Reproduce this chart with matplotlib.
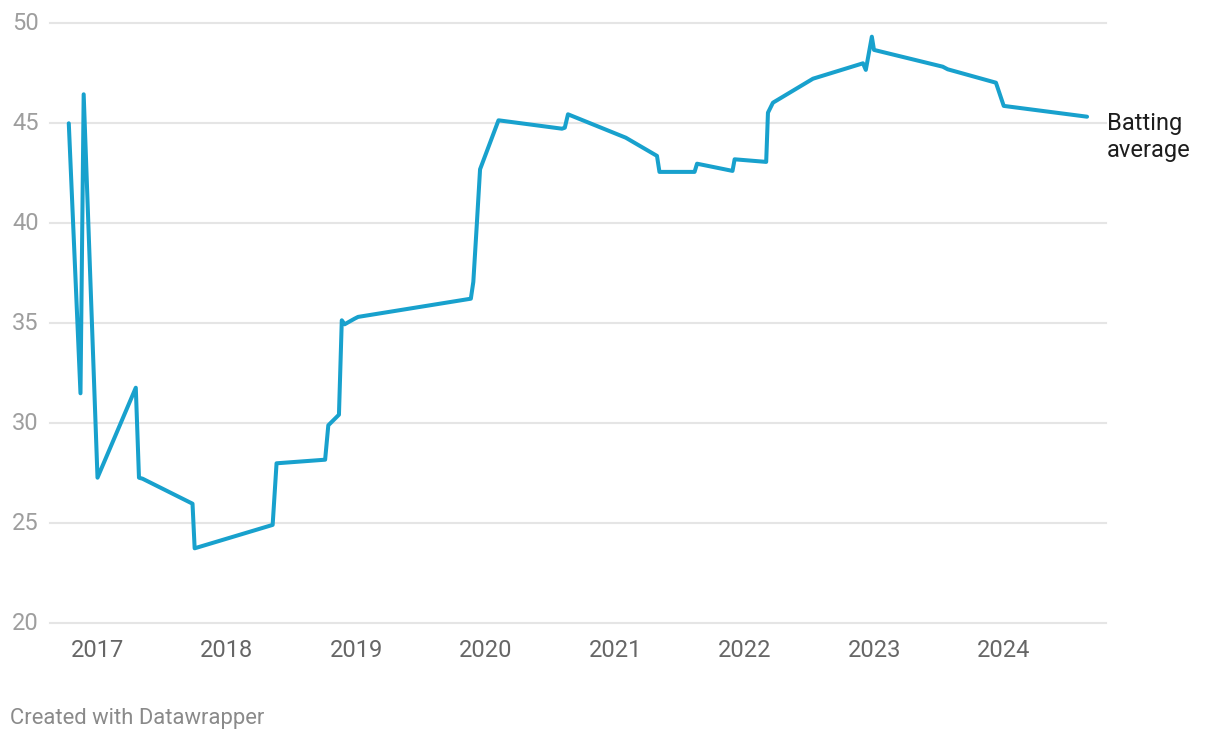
import matplotlib
matplotlib.use("Agg")
import matplotlib.pyplot as plt
import matplotlib.dates as mdates
import matplotlib.transforms as mtransforms
import pandas as pd

# ---- data ----
dates = [
    "2016-10-12", "2016-11-14", "2016-11-23", "2017-01-01", "2017-04-19",
    "2017-04-28", "2017-05-08", "2017-09-26", "2017-10-02", "2018-05-10",
    "2018-05-21", "2018-10-05", "2018-10-14", "2018-11-13", "2018-11-21",
    "2018-11-29", "2018-12-27", "2019-01-06", "2019-11-20", "2019-11-27",
    "2019-12-06", "2019-12-16", "2020-02-06", "2020-08-03", "2020-08-11",
    "2020-08-20", "2021-01-30", "2021-04-28", "2021-05-05", "2021-08-12",
    "2021-08-19", "2021-11-27", "2021-12-03", "2022-03-02", "2022-03-07",
    "2022-03-21", "2022-07-12", "2022-11-30", "2022-12-08", "2022-12-25",
    "2022-12-31", "2023-07-13", "2023-07-27", "2023-12-10", "2024-01-01",
    "2024-08-23",
]
batting_average = [
    45.0, 31.5, 46.45, 27.28, 31.78,
    27.28, 27.23, 25.98, 23.75, 24.92,
    28.0, 28.18, 29.9, 30.43, 35.15,
    34.95, 35.23, 35.32, 36.23, 37.07,
    39.7, 42.7, 45.15, 44.73, 44.78,
    45.45, 44.28, 43.37, 42.57, 42.57,
    42.98, 42.62, 43.2, 43.07, 45.53,
    46.03, 47.23, 48.0, 47.67, 49.33,
    48.67, 47.83, 47.7, 47.03, 45.87,
    45.33,
]
year_ticks = [2017, 2018, 2019, 2020, 2021, 2022, 2023, 2024]
y_ticks = [20, 25, 30, 35, 40, 45, 50]
series_label = ["Batting", "average"]
footer = "Created with Datawrapper"

# ---- styling ----
W, H = 1220, 740
LINE_COLOR = "#18a1cd"
GRID_COLOR = "#e5e5e5"
FONT = ["Roboto", "DejaVu Sans"]
plt.rcParams["font.family"] = FONT

fig = plt.figure(figsize=(W / 100, H / 100), dpi=100)
fig.patch.set_facecolor("white")

left_px, right_px = 50, 1105.5
top_px, bottom_px = 23.3, 623.3
ax = fig.add_axes([left_px / W, (H - bottom_px) / H,
                   (right_px - left_px) / W, (bottom_px - top_px) / H])
ax.set_facecolor("none")

x = mdates.date2num(pd.to_datetime(dates).to_pydatetime())

# x scale: 2017-01-01 at px 97.5, 129.5 px per year
ref = mdates.date2num(pd.Timestamp("2017-01-01").to_pydatetime())
px_per_day = 129.5 / 365.25
ax.set_xlim(ref + (left_px - 97.5) / px_per_day, ref + (right_px - 97.5) / px_per_day)
ax.set_ylim(20, 50)

# grid
for yv in y_ticks:
    ax.axhline(yv, color=GRID_COLOR, lw=1.5, zorder=1, clip_on=False)

ax.plot(x, batting_average, color=LINE_COLOR, lw=2.9, solid_joinstyle="round",
        solid_capstyle="round", zorder=3, clip_on=False)

for s in ax.spines.values():
    s.set_visible(False)

tick_pos = [mdates.date2num(pd.Timestamp(f"{yr}-01-01").to_pydatetime()) for yr in year_ticks]
ax.set_xticks(tick_pos)
ax.set_xticklabels([str(yr) for yr in year_ticks])
ax.tick_params(axis="x", length=0, pad=11.5, labelsize=17, labelcolor="#666666")
ax.set_yticks([])

# y labels at fixed left pixel
trans = mtransforms.blended_transform_factory(fig.transFigure, ax.transData)
for yv in y_ticks:
    ax.text(12 / W, yv, str(yv), transform=trans, ha="left", va="center",
            fontsize=17, color="#9e9e9e")

# series label
ax.text(1107 / W, 1 - 130 / H, series_label[0], transform=fig.transFigure,
        ha="left", va="baseline", fontsize=17, color="#1d1d1d")
ax.text(1107 / W, 1 - 157 / H, series_label[1], transform=fig.transFigure,
        ha="left", va="baseline", fontsize=17, color="#1d1d1d")

fig.text(10 / W, 1 - 724 / H, footer, ha="left", va="baseline",
         fontsize=15.8, color="#8a8a8a")

fig.savefig("out.png", dpi=100, facecolor="white")
